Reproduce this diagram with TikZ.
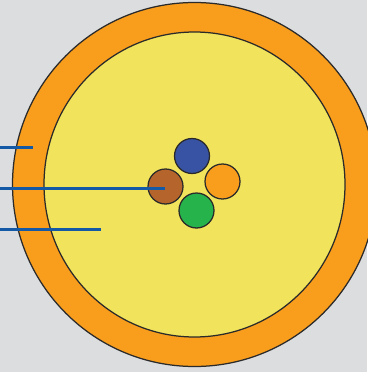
\documentclass[tikz,border=0pt]{standalone}
\usetikzlibrary{shapes.geometric}
\definecolor{bgc}{HTML}{DCDDDF}
\definecolor{orng}{HTML}{F99D1C}
\definecolor{yel}{HTML}{F2E35C}
\definecolor{blu}{HTML}{3853A4}
\definecolor{brn}{HTML}{B5652B}
\definecolor{grn}{HTML}{27B34B}
\definecolor{lead}{HTML}{1459A5}
\definecolor{edge}{HTML}{2A2A2A}
\tikzset{
 part/.style={circle,draw=edge,line width=1.25pt,inner sep=0pt,minimum size=#1},
 leadline/.style={draw=lead,line width=2.4pt}}
\begin{document}
\begin{tikzpicture}[x=1pt,y=-1pt]
\useasboundingbox (0,0) rectangle (367,372);
\fill[bgc] (0,0) rectangle (367,372);
\node[part=364pt,fill=orng] (jacket) at (194.5,184.5) {};
\node[ellipse,draw=edge,line width=1.25pt,inner sep=0pt,minimum width=301pt,minimum height=305pt,fill=yel] (fill) at (194.5,184.5) {};
\node[part=35pt,fill=blu] (w1) at (192,156) {};
\node[part=35pt,fill=brn] (w2) at (165.5,186.5) {};
\node[part=35pt,fill=orng] (w3) at (222.5,181.5) {};
\node[part=35pt,fill=grn] (w4) at (196.5,210.5) {};
\coordinate (a0) at (0,147.5);
\coordinate (a1) at (33,147.5);
\coordinate (b0) at (0,188.5);
\coordinate (b1) at (165,188.5);
\coordinate (c0) at (0,229.5);
\coordinate (c1) at (101,229.5);
\draw[leadline] (a0) -- (a1);
\draw[leadline] (b0) -- (b1);
\draw[leadline] (c0) -- (c1);
\end{tikzpicture}
\end{document}
